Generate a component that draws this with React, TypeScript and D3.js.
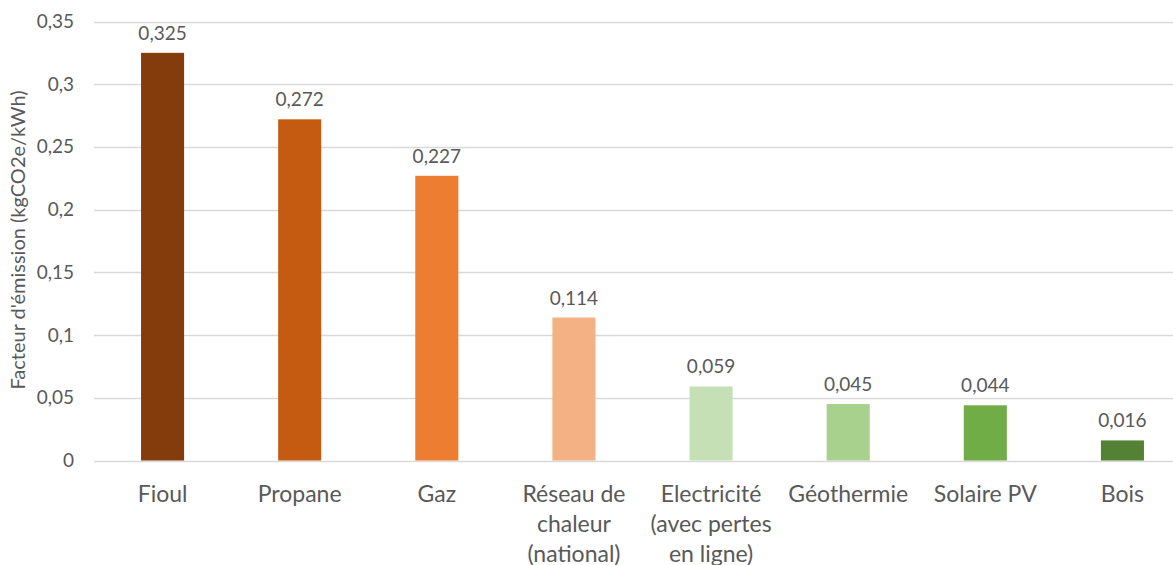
import React from "react";
import * as d3 from "d3";

const categories: string[][] = [
  ["Fioul"],
  ["Propane"],
  ["Gaz"],
  ["Réseau de", "chaleur", "(national)"],
  ["Electricité", "(avec pertes", "en ligne)"],
  ["Géothermie"],
  ["Solaire PV"],
  ["Bois"],
];
const values: number[] = [0.325, 0.272, 0.227, 0.114, 0.059, 0.045, 0.044, 0.016];
const colors: string[] = ["#843C0C", "#C55A11", "#ED7D31", "#F4B183", "#C5E0B4", "#A9D18E", "#70AD47", "#548235"];
const yTicks: number[] = [0, 0.05, 0.1, 0.15, 0.2, 0.25, 0.3, 0.35];
const yTitle = "Facteur d'émission (kgCO2e/kWh)";

const W = 1173;
const H = 565;
const FONT = "Lato, 'Open Sans', sans-serif";
const TXT = "#595959";

const fmt = (v: number) => String(v).replace(".", ",");

export default function App() {
  const x = d3
    .scaleBand<number>()
    .domain(categories.map((_, i) => i))
    .range([94, 1191])
    .padding(0);
  const y = d3.scaleLinear().domain([0, 0.35]).range([460.5, 21.5]);
  const barW = x.bandwidth() * 0.314;

  return (
    <svg
      width={W}
      height={H}
      style={{ position: "absolute", left: 0, top: 0, background: "#fff" }}
      fontFamily={FONT}
    >
      {yTicks.map((t) => (
        <g key={t}>
          <line x1={94} x2={W} y1={Math.round(y(t)) + 0.5} y2={Math.round(y(t)) + 0.5} stroke="#D9D9D9" strokeWidth={1.3} />
          <text x={74} y={y(t) + 6.5} textAnchor="end" fontSize={19} fill={TXT}>
            {fmt(t)}
          </text>
        </g>
      ))}
      <text
        transform={`translate(25,${240}) rotate(-90)`}
        textAnchor="middle"
        fontSize={20}
        fill={TXT}
      >
        {yTitle}
      </text>
      {values.map((v, i) => {
        const cx = (x(i) as number) + x.bandwidth() / 2;
        return (
          <g key={i}>
            <rect x={cx - barW / 2} y={y(v)} width={barW} height={y(0) - y(v)} fill={colors[i]} />
            <text x={cx} y={y(v) - 13} textAnchor="middle" fontSize={19} fill={TXT}>
              {fmt(v)}
            </text>
            {categories[i].map((line, j) => (
              <text key={j} x={cx} y={502 + j * 30} textAnchor="middle" fontSize={23} fill={TXT}>
                {line}
              </text>
            ))}
          </g>
        );
      })}
    </svg>
  );
}
